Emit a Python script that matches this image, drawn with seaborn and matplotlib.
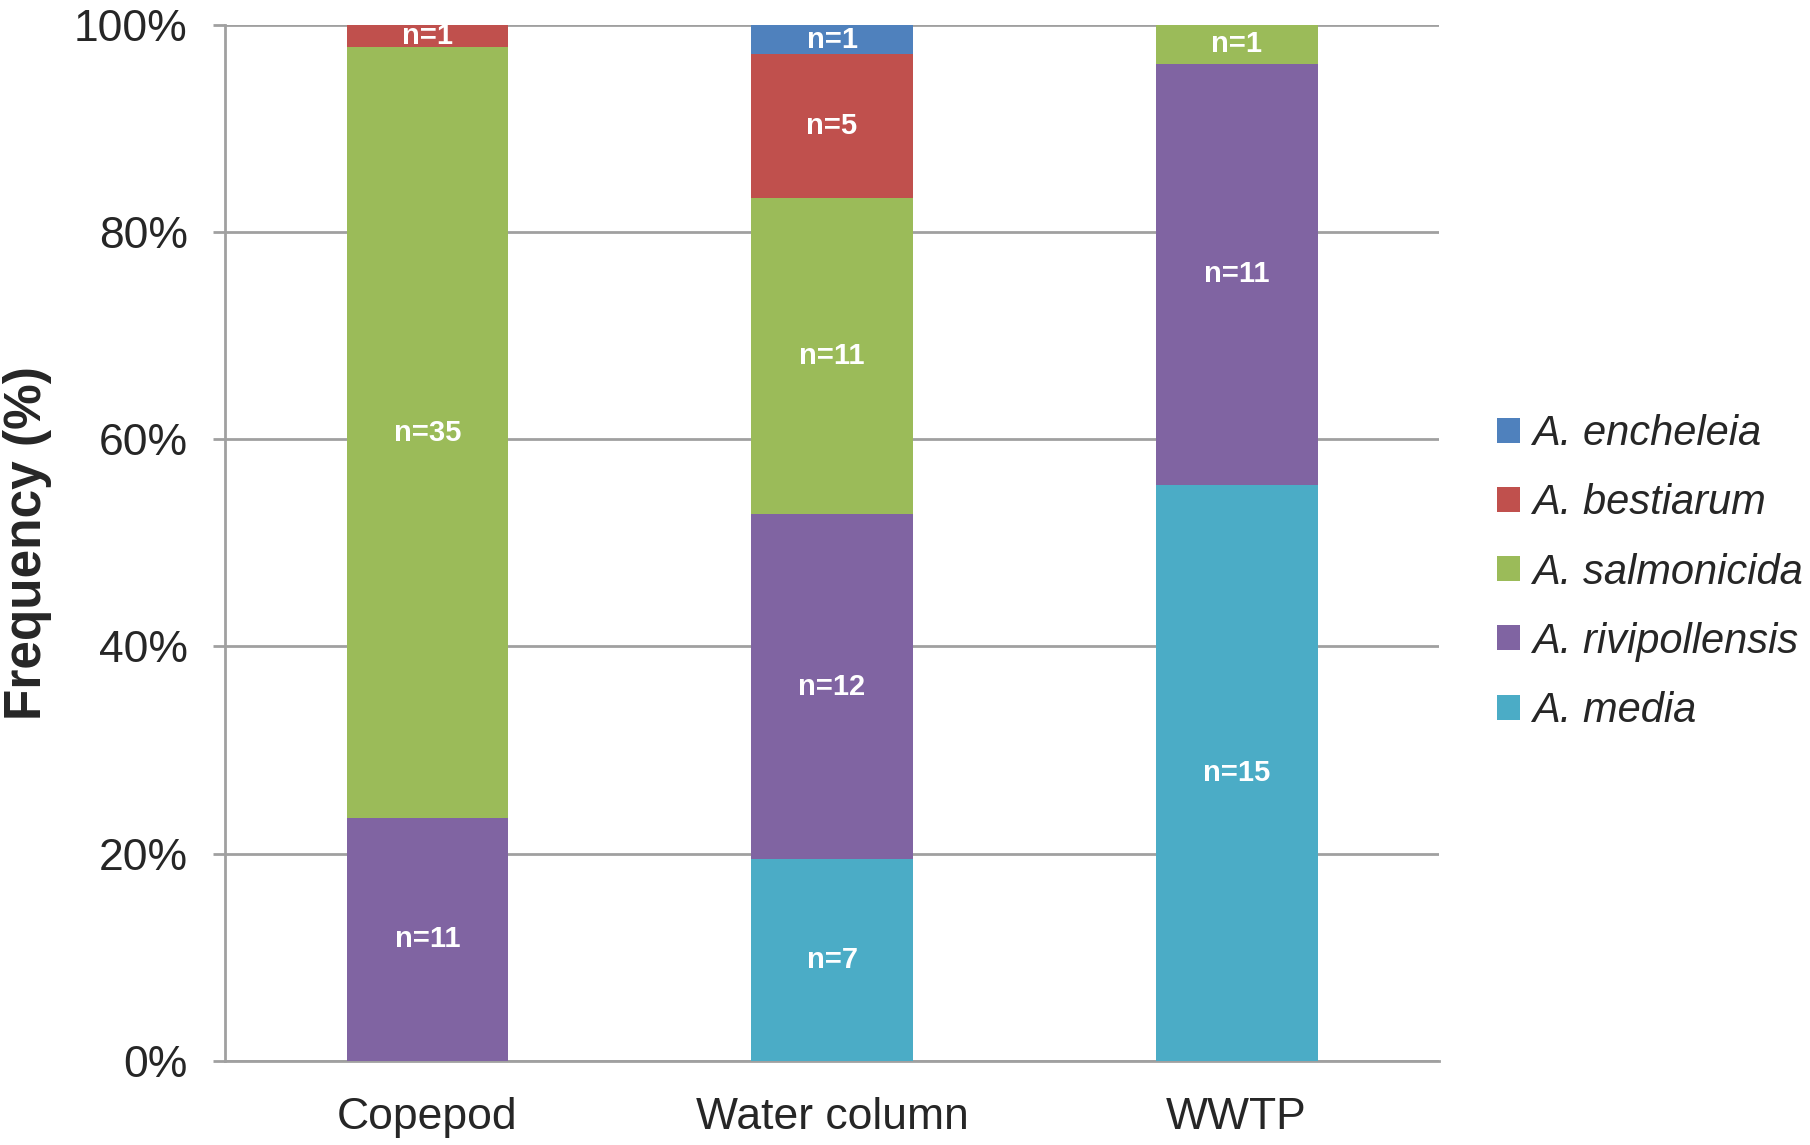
import pandas as pd
import seaborn as sns
import matplotlib.pyplot as plt
from matplotlib.patches import Patch
from matplotlib.ticker import FixedLocator, PercentFormatter

# categorias y conteos por especie (de abajo hacia arriba en la barra)
sources = ["Copepod", "Water column", "WWTP"]
species = ["A. media", "A. rivipollensis", "A. salmonicida", "A. bestiarum", "A. encheleia"]
media = [0, 7, 15]
rivipollensis = [11, 12, 11]
salmonicida = [35, 11, 1]
bestiarum = [1, 5, 0]
encheleia = [0, 1, 0]
colors = ["#4BACC6", "#8064A2", "#9BBB59", "#C0504D", "#4F81BD"]

counts = pd.DataFrame({
    "A. media": media,
    "A. rivipollensis": rivipollensis,
    "A. salmonicida": salmonicida,
    "A. bestiarum": bestiarum,
    "A. encheleia": encheleia,
}, index=sources)

# porcentajes y acumulados para apilar
pct = counts.div(counts.sum(axis=1), axis=0) * 100
cum = pct.cumsum(axis=1)

sns.set_style("white")
plt.rcParams["font.family"] = ["Liberation Sans", "DejaVu Sans"]

grid_col = "#A0A0A0"

fig = plt.figure(figsize=(18.1, 11.45), dpi=100)
ax = fig.add_axes([0.1244, 0.0737, 0.6706, 0.9043])

# dibujamos de la capa superior a la inferior, cada una tapa a la anterior
for sp, col in reversed(list(zip(species, colors))):
    df = pd.DataFrame({"source": sources, "cum": cum[sp].values})
    sns.barplot(data=df, x="source", y="cum", color=col, saturation=1,
                width=0.4, linewidth=0, ax=ax, zorder=3)

# etiquetas n= en el centro de cada segmento
for i, src in enumerate(sources):
    for sp in species:
        c = counts.loc[src, sp]
        if c > 0:
            y = cum.loc[src, sp] - pct.loc[src, sp] / 2
            ax.text(i, y, f"n={c}", ha="center", va="center", color="white",
                    fontsize=21, fontweight="bold", zorder=4)

ax.set_xlim(-0.5, 2.5)
ax.set_ylim(0, 100)
ax.set_yticks(range(0, 101, 20))
ax.yaxis.set_major_formatter(PercentFormatter(decimals=0))
ax.set_axisbelow(True)
ax.yaxis.grid(True, color=grid_col, linewidth=2)
ax.xaxis.grid(False)

for s in ["top", "right"]:
    ax.spines[s].set_visible(False)
for s in ["left", "bottom"]:
    ax.spines[s].set_color(grid_col)
    ax.spines[s].set_linewidth(2)

ax.xaxis.set_minor_locator(FixedLocator([-0.5, 0.5, 1.5, 2.5]))
ax.tick_params(axis="x", which="major", length=0, pad=26, labelsize=32)
ax.tick_params(axis="x", which="minor", length=9, width=2, color=grid_col, direction="out")
ax.tick_params(axis="y", which="major", length=9, width=2, color=grid_col,
               direction="out", pad=18, labelsize=32, left=True)

ax.set_xlabel("")
ax.set_ylabel("Frequency (%)", fontsize=37, fontweight="bold")
ax.yaxis.set_label_coords(-0.1425, 0.5)

handles = [Patch(facecolor=c, edgecolor="none") for c in reversed(colors)]
fig.legend(handles, list(reversed(species)), loc="center left",
           bbox_to_anchor=(1497 / 1810, 0.5), frameon=False,
           prop={"style": "italic", "size": 30}, handlelength=0.55,
           handleheight=0.55, handletextpad=0.3, labelspacing=0.7,
           borderpad=0, borderaxespad=0)

fig.savefig("out.png", dpi=100)
